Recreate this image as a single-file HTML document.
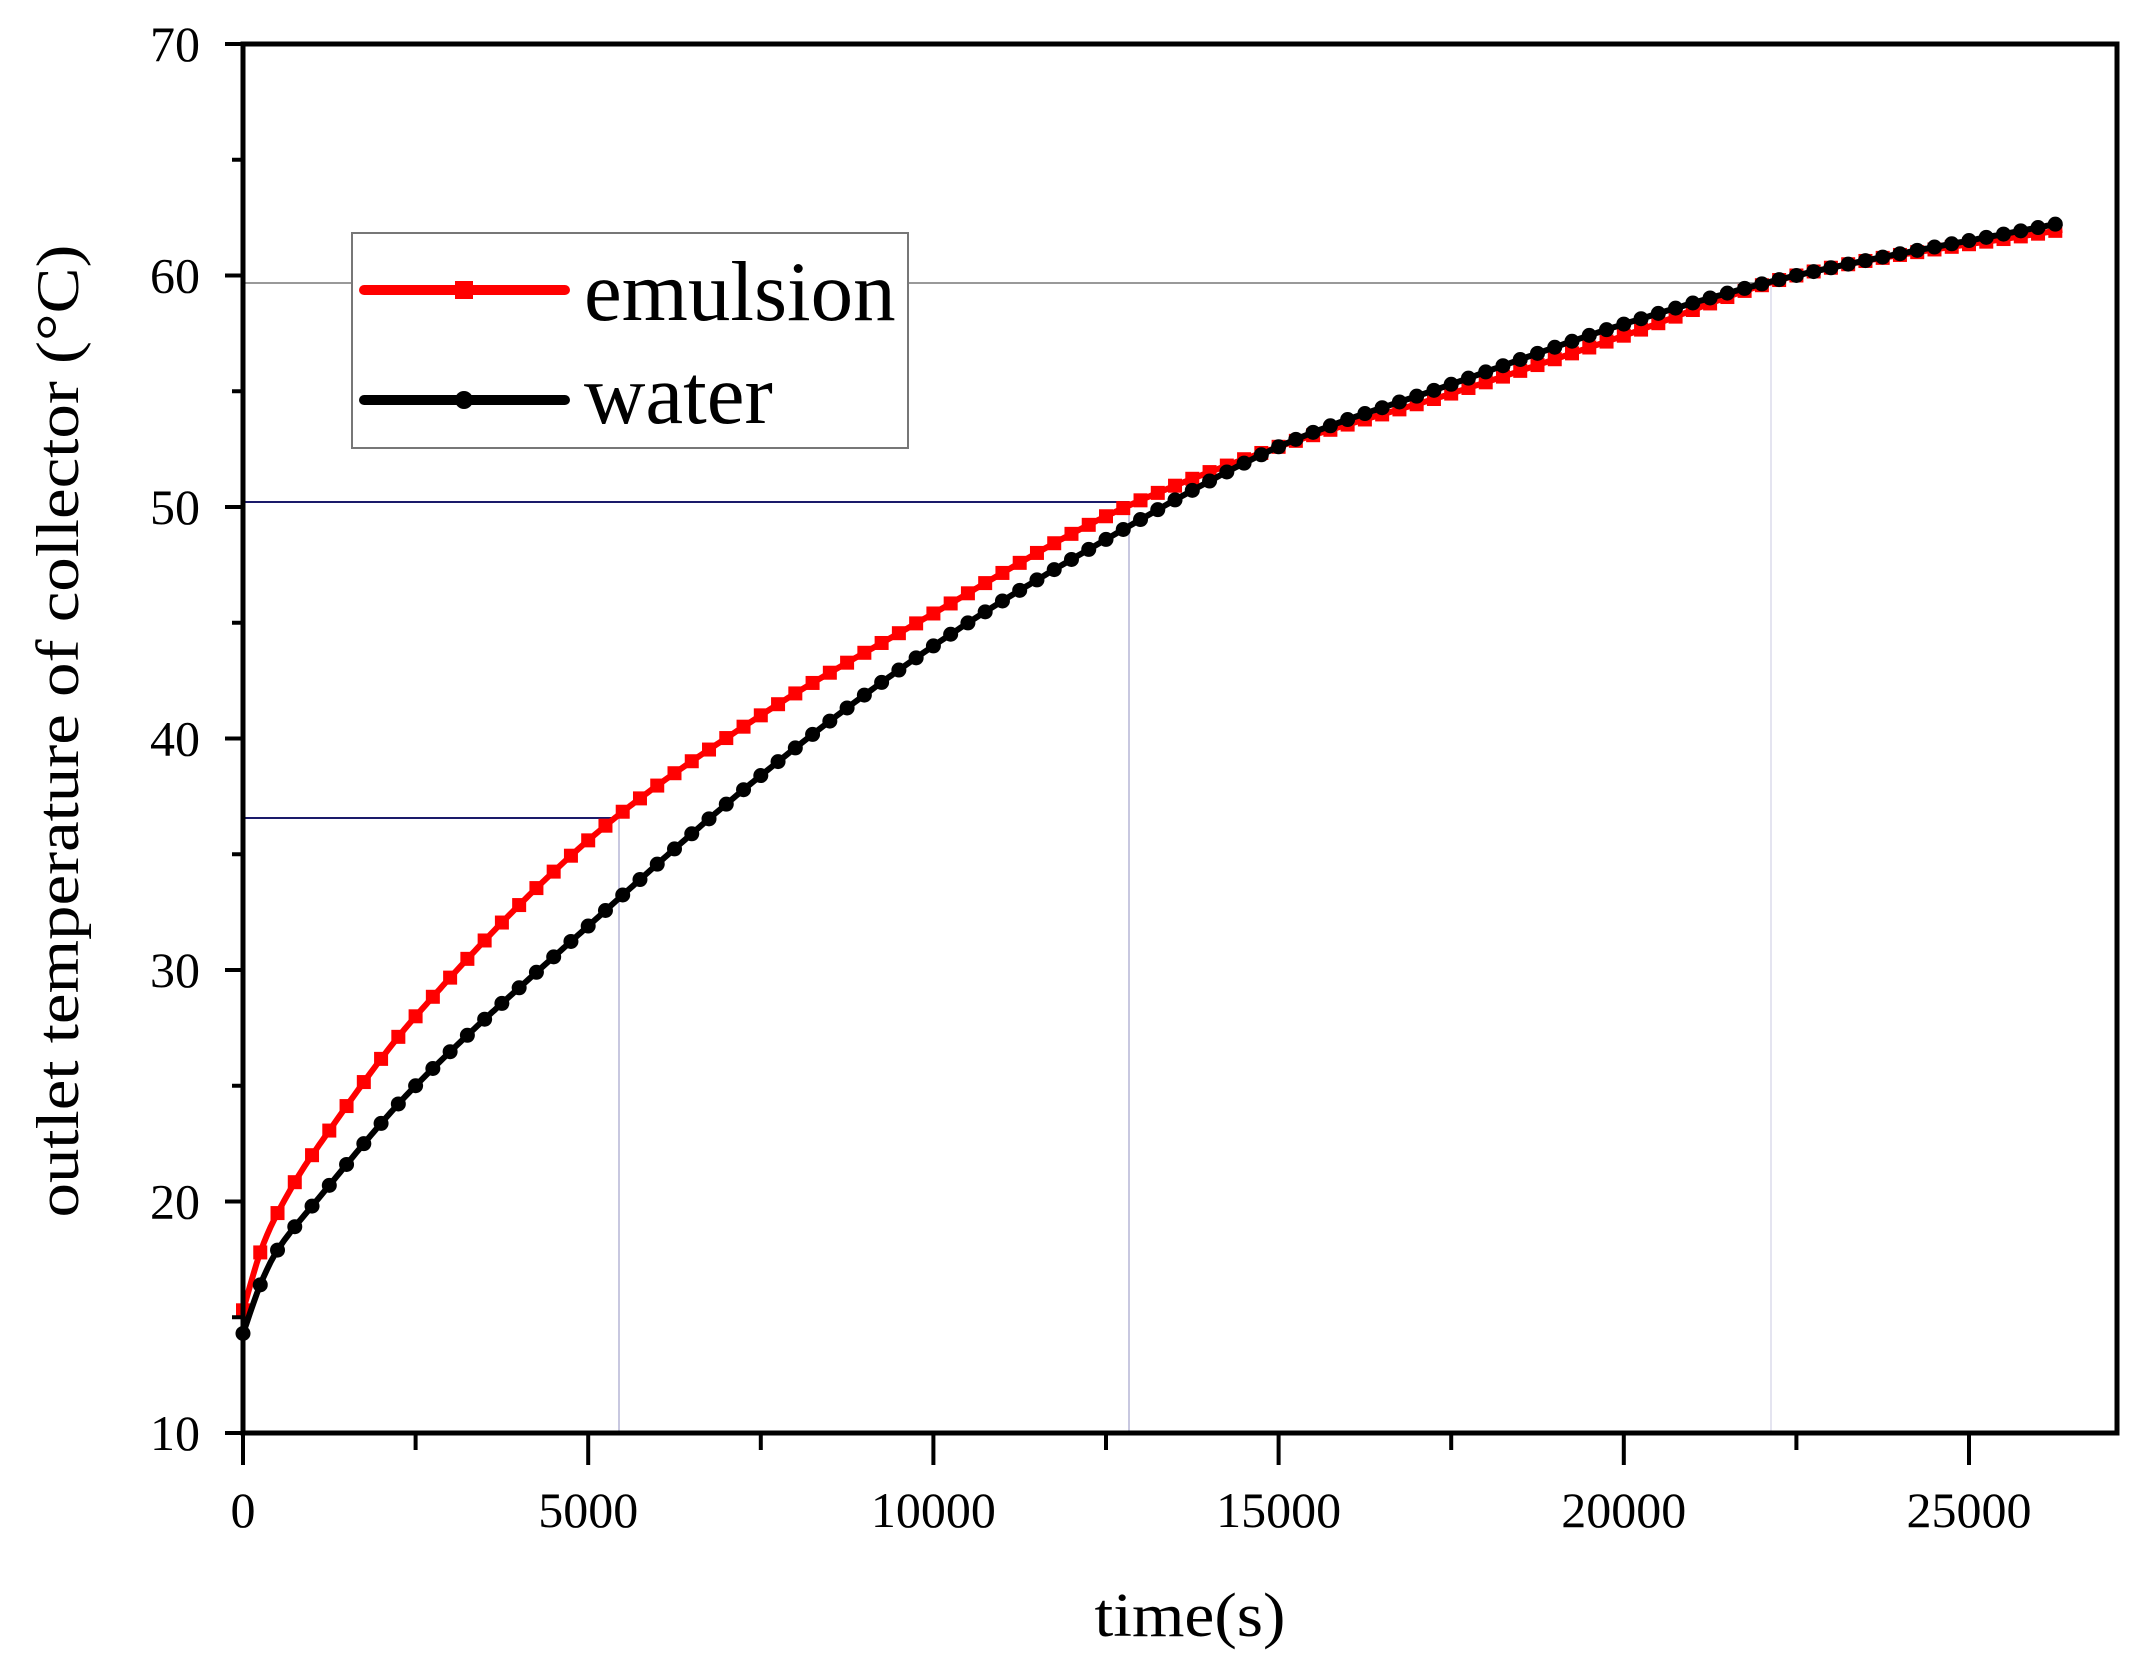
<!DOCTYPE html>
<html><head><meta charset="utf-8"><style>html,body{margin:0;padding:0;background:#fff}svg{display:block}</style></head>
<body>
<svg id="s" width="2144" height="1675" viewBox="0 0 2144 1675" xmlns="http://www.w3.org/2000/svg" font-family="Liberation Serif, serif">
<g id="ref"></g>
<g id="curves"></g>
<rect x="243" y="44" width="1874" height="1389" fill="none" stroke="#000" stroke-width="5"/>
<g id="ticks" stroke="#000" stroke-width="4"></g>
<g id="labels" font-size="50" fill="#000"></g>
<text x="0" y="0" font-size="60" transform="translate(78,731) rotate(-90)" text-anchor="middle" textLength="973" lengthAdjust="spacingAndGlyphs">outlet temperature of collector (°C)</text>
<text x="1190" y="1636" font-size="62" text-anchor="middle" textLength="191" lengthAdjust="spacingAndGlyphs">time(s)</text>
<g id="legend">
<rect x="352" y="233" width="556" height="215" fill="#fff" stroke="#777" stroke-width="2"/>
<line x1="364" y1="290" x2="565" y2="290" stroke="#f00" stroke-width="10" stroke-linecap="round"/>
<rect x="455" y="281" width="18" height="18" fill="#f00"/>
<text x="584" y="320" font-size="85">emulsion</text>
<line x1="364" y1="400" x2="565" y2="400" stroke="#000" stroke-width="10" stroke-linecap="round"/>
<circle cx="464" cy="400" r="9" fill="#000"/>
<text x="584" y="423" font-size="85">water</text>
</g>
</svg>
<script>
var NS="http://www.w3.org/2000/svg";
function X(t){return 243+t/5000*345.2}
function Y(v){return 1433-(v-10)*23.15}
function el(p,n,a){var e=document.createElementNS(NS,n);for(var k in a)e.setAttribute(k,a[k]);document.getElementById(p).appendChild(e);return e}
el('ref','line',{x1:243,y1:283,x2:352,y2:283,stroke:'#999','stroke-width':2});
el('ref','line',{x1:908,y1:283,x2:1771,y2:283,stroke:'#999','stroke-width':2});
el('ref','line',{x1:1771,y1:283,x2:1771,y2:1433,stroke:'#e4e4f0','stroke-width':2});
el('ref','line',{x1:243,y1:502,x2:1129,y2:502,stroke:'#1a1a6a','stroke-width':2});
el('ref','line',{x1:1129,y1:502,x2:1129,y2:1433,stroke:'#c8c8e0','stroke-width':2});
el('ref','line',{x1:243,y1:818,x2:619,y2:818,stroke:'#1a1a6a','stroke-width':2});
el('ref','line',{x1:619,y1:818,x2:619,y2:1433,stroke:'#c8c8e0','stroke-width':2});
for(var v=10;v<=70;v+=5){var y=Y(v),maj=v%10==0;el('ticks','line',{x1:maj?225:232,y1:y,x2:243,y2:y});
 if(maj){var t=el('labels','text',{x:200,y:y+17,'text-anchor':'end'});t.textContent=v;}}
for(var t=0;t<=25000;t+=2500){var x=X(t),maj=t%5000==0;el('ticks','line',{x1:x,y1:1433,x2:x,y2:maj?1465:1450});
 if(maj){var e=el('labels','text',{x:x,y:1527,'text-anchor':'middle'});e.textContent=t;}}
function interp(P,t){for(var i=0;i<P.length-1;i++){if(t<=P[i+1][0]){
 var p0=P[Math.max(i-1,0)],p1=P[i],p2=P[i+1],p3=P[Math.min(i+2,P.length-1)];
 var u=(t-p1[0])/(p2[0]-p1[0]),h=p2[0]-p1[0];
 var m1=(p2[1]-p0[1])/(p2[0]-p0[0])*h,m2=(p3[1]-p1[1])/(p3[0]-p1[0])*h;
 var u2=u*u,u3=u2*u;return (2*u3-3*u2+1)*p1[1]+(u3-2*u2+u)*m1+(-2*u3+3*u2)*p2[1]+(u3-u2)*m2;}}
 return P[P.length-1][1]}
var E=[[0,15.3],[250,17.8],[500,19.5],[1000,22.0],[2500,28.0],[5000,35.6],[7500,41.0],[10000,45.4],[12500,49.6],[15000,52.6],[17500,54.9],[20000,57.4],[22500,60.0],[26390,62.0]];
var W=[[0,14.3],[250,16.4],[500,17.9],[1000,19.8],[2500,25.0],[5000,31.9],[7500,38.4],[10000,44.0],[12500,48.6],[15000,52.6],[17500,55.3],[20000,57.9],[22500,60.0],[26390,62.3]];
function draw(P,col,mk){var d='';for(var t=0;t<=26390;t+=50){d+=(t?'L':'M')+X(t).toFixed(1)+','+Y(interp(P,t)).toFixed(1);}
 el('curves','path',{d:d,fill:'none',stroke:col,'stroke-width':6,'stroke-linejoin':'round'});
 for(var t=0;t<=26390;t+=250){var x=X(t),y=Y(interp(P,t));
  if(mk=='s')el('curves','rect',{x:x-7,y:y-7,width:14,height:14,fill:col});
  else el('curves','circle',{cx:x,cy:y,r:7.5,fill:col});}}
draw(E,'#f00','s');draw(W,'#000','c');
</script>
</body></html>
